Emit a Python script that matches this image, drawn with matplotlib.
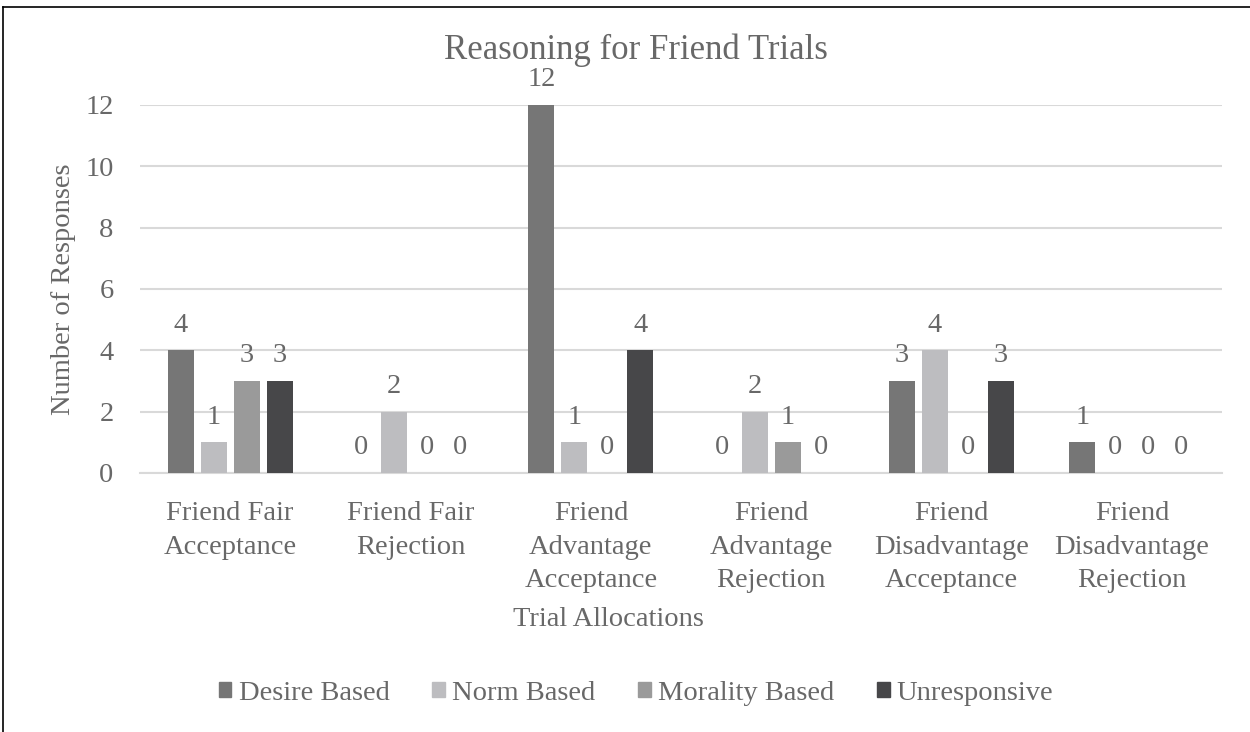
import matplotlib
matplotlib.use("Agg")
import matplotlib.pyplot as plt
import numpy as np
from matplotlib.lines import Line2D

categories = ["Friend Fair\nAcceptance", "Friend Fair\nRejection", "Friend\nAdvantage\nAcceptance",
              "Friend\nAdvantage\nRejection", "Friend\nDisadvantage\nAcceptance", "Friend\nDisadvantage\nRejection"]
series_names = ["Desire Based", "Norm Based", "Morality Based", "Unresponsive"]
desire = [4, 0, 12, 0, 3, 1]
norm = [1, 2, 1, 2, 4, 0]
morality = [3, 0, 0, 1, 0, 0]
unresponsive = [3, 0, 4, 0, 3, 0]
series = [desire, norm, morality, unresponsive]
colors = ["#767676", "#bdbdc0", "#9a9a9a", "#474749"]
yticks = [0, 2, 4, 6, 8, 10, 12]

plt.rcParams['font.family'] = ['Liberation Serif', 'DejaVu Serif']
txt = "#686868"
fs = 20.5

fig = plt.figure(figsize=(12.5, 7.32), dpi=100)
ax = fig.add_axes([140/1250, 1-473/732, (1222-140)/1250, (473-105)/732])

x = np.arange(len(categories))
step = 33/180
width = 26/180
for i, (vals, c) in enumerate(zip(series, colors)):
    pos = x + (i - 1.5) * step
    ax.bar(pos, vals, width=width, color=c, zorder=3)
    for p, v in zip(pos, vals):
        ax.annotate(str(v), (p, v), xytext=(0, 9), textcoords='offset points',
                    ha='center', va='bottom', fontsize=fs, color=txt)

ax.set_xlim(-0.5, len(categories) - 0.5)
ax.set_ylim(0, 12)
ax.set_yticks(yticks)
ax.set_yticklabels([str(t) for t in yticks], fontsize=fs, color=txt)
ax.set_xticks(x)
ax.set_xticklabels(categories, fontsize=fs, color=txt, linespacing=1.46)
ax.tick_params(axis='x', length=0, pad=20)
ax.tick_params(axis='y', length=0, pad=19)
ax.grid(axis='y', color='#d9d9d9', linewidth=1.5, zorder=0)
for s in ['top', 'right', 'left']:
    ax.spines[s].set_visible(False)
ax.spines['bottom'].set_color('#d9d9d9')
ax.spines['bottom'].set_linewidth(1.5)

ax.set_ylabel("Number of Responses", fontsize=fs, color=txt)
ax.yaxis.set_label_coords(-64/1082, 0.5)
fig.text(608/1250, 1-620/732, "Trial Allocations", ha='center', va='center', fontsize=fs, color=txt)
fig.text(636/1250, 1-50/732, "Reasoning for Friend Trials", ha='center', va='center', fontsize=25, color=txt)

handles = [plt.Rectangle((0, 0), 1, 1, color=c) for c in colors]
leg = fig.legend(handles, series_names, loc='center', bbox_to_anchor=(636/1250, 1-693/732), ncol=4,
                 frameon=False, fontsize=fs, handlelength=0.45, handleheight=0.45, handletextpad=0.25,
                 columnspacing=1.5)
for t in leg.get_texts():
    t.set_color(txt)

fig.add_artist(Line2D([3/1250, 3/1250], [0, 1-7/732], color='black', linewidth=1.2))
fig.add_artist(Line2D([3/1250, 1], [1-7/732, 1-7/732], color='black', linewidth=1.2))

fig.savefig("out.png", dpi=100)
